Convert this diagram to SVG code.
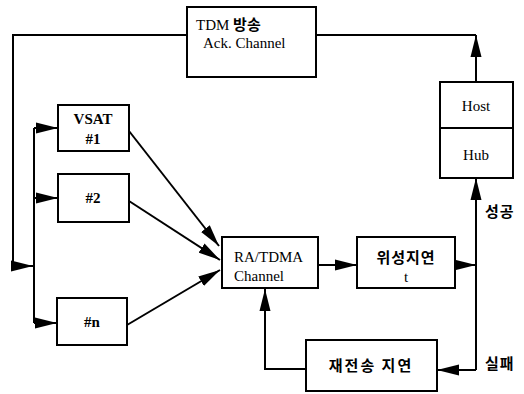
<svg xmlns="http://www.w3.org/2000/svg" width="524" height="394" viewBox="0 0 524 394">
<defs>
<marker id="ah" markerUnits="userSpaceOnUse" markerWidth="22" markerHeight="12" viewBox="0 0 20 10" refX="20" refY="5" orient="auto">
<path d="M0,0 L20,5 L0,10 z" fill="#000"/>
</marker>
<style>
.box{fill:#fff;stroke:#000;stroke-width:2}
.ln{fill:none;stroke:#000;stroke-width:2}
.ar{fill:none;stroke:#000;stroke-width:2;marker-end:url(#ah)}
.t{font-family:"Liberation Serif","Noto Sans CJK KR",serif;font-size:15px;fill:#000}
.b{font-weight:bold}
.k{font-family:"Noto Sans CJK KR","Liberation Sans",sans-serif;font-size:15px;font-weight:bold;fill:#000}
.m{text-anchor:middle}
</style>
</defs>
<rect width="524" height="394" fill="#fff"/>
<g id="connectors">
<polyline class="ar" points="187,35 13,35 13,266 33,266"/>
<line class="ln" x1="316" y1="35" x2="476" y2="35"/>
<line class="ar" x1="476" y1="82" x2="476" y2="35"/>
<line class="ln" x1="34" y1="128" x2="34" y2="323"/>
<line class="ar" x1="34" y1="128" x2="58" y2="128"/>
<line class="ar" x1="34" y1="198" x2="58" y2="198"/>
<line class="ar" x1="34" y1="323" x2="57" y2="323"/>
<line class="ar" x1="129" y1="131" x2="219" y2="246"/>
<line class="ar" x1="129" y1="201" x2="220" y2="260"/>
<line class="ar" x1="127" y1="325" x2="220" y2="270"/>
<line class="ar" x1="318" y1="265" x2="357" y2="265"/>
<line class="ar" x1="455" y1="265" x2="476" y2="265"/>
<line class="ar" x1="476" y1="370" x2="476" y2="178"/>
<polyline class="ar" points="476,370 476,370 437,370"/>
<polyline class="ar" points="306,369 265,369 265,289"/>
</g>
<g id="tdm">
<rect class="box" x="187" y="7" width="129" height="70"/>
<text class="t" x="196" y="30">TDM <tspan class="k">방송</tspan></text>
<text class="t" x="203" y="48">Ack. Channel</text>
</g>
<g id="hosthub">
<rect class="box" x="440" y="82" width="73" height="96"/>
<line class="ln" x1="440" y1="128" x2="513" y2="128"/>
<text class="t m" x="476" y="111">Host</text>
<text class="t m" x="476" y="160">Hub</text>
</g>
<g id="vsat1">
<rect class="box" x="58" y="105" width="71" height="46"/>
<text class="t b m" x="93" y="124">VSAT</text>
<text class="t b m" x="93" y="144">#1</text>
</g>
<g id="vsat2">
<rect class="box" x="58" y="174" width="71" height="48"/>
<text class="t b m" x="93" y="203">#2</text>
</g>
<g id="vsatn">
<rect class="box" x="57" y="298" width="70" height="47"/>
<text class="t b m" x="92" y="327">#n</text>
</g>
<g id="ratdma">
<rect class="box" x="222" y="237" width="96" height="51"/>
<text class="t" x="234" y="262">RA/TDMA</text>
<text class="t" x="234" y="281">Channel</text>
</g>
<g id="satdelay">
<rect class="box" x="357" y="237" width="98" height="51"/>
<text class="k m" x="406" y="263" font-size="16" letter-spacing="1">위성지연</text>
<text class="t m" x="406" y="282">t</text>
</g>
<g id="retx">
<rect class="box" x="306" y="340" width="131" height="51"/>
<text class="k m" x="371" y="371" font-size="16" letter-spacing="2">재전송 지연</text>
</g>
<g id="labels">
<text class="k" x="485" y="217" letter-spacing="1">성공</text>
<text class="k" x="485" y="369" letter-spacing="1">실패</text>
</g>
</svg>
